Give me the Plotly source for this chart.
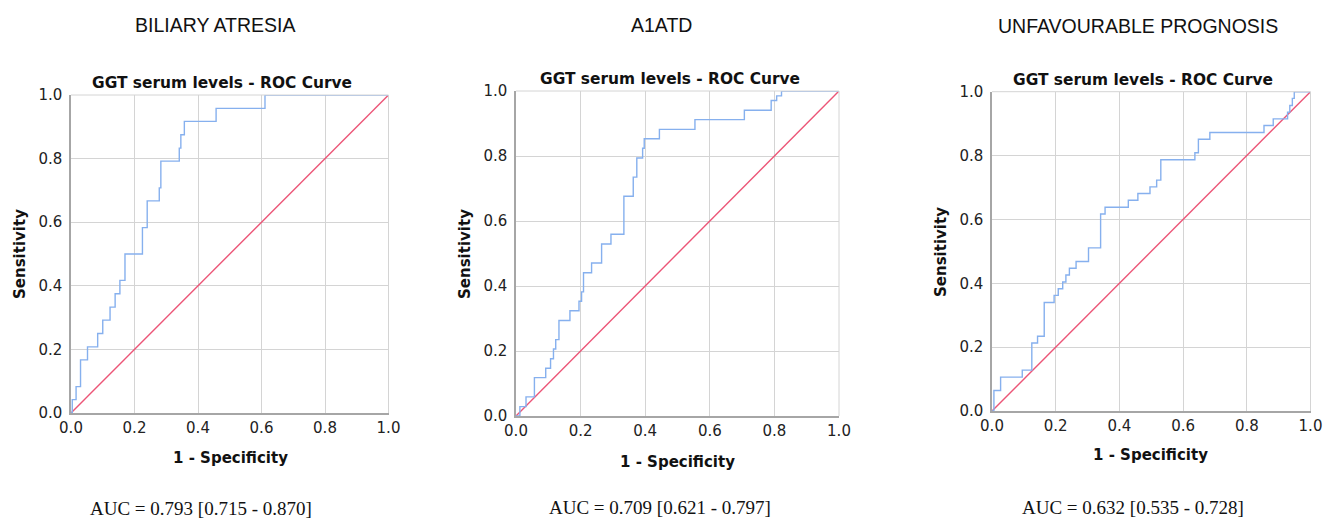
import plotly.graph_objects as go

W, H = 1324, 521

# ---------------- data ----------------
panel_titles = ["BILIARY ATRESIA", "A1ATD", "UNFAVOURABLE PROGNOSIS"]
chart_title = "GGT serum levels - ROC Curve"
x_title = "1 - Specificity"
y_title = "Sensitivity"
auc_labels = ["AUC = 0.793 [0.715 - 0.870]",
              "AUC = 0.709 [0.621 - 0.797]",
              "AUC = 0.632 [0.535 - 0.728]"]
tick_vals = [0.0, 0.2, 0.4, 0.6, 0.8, 1.0]
tick_text = ["0.0", "0.2", "0.4", "0.6", "0.8", "1.0"]
ref_x = [0.0, 1.0]
ref_y = [0.0, 1.0]

# Biliary atresia ROC (step points: x where the step happens, new sensitivity)
ba_fpr = [0.0, 0.004, 0.016, 0.030, 0.052, 0.084, 0.100, 0.123, 0.139, 0.154,
          0.170, 0.225, 0.240, 0.278, 0.283, 0.341, 0.346, 0.357, 0.457, 0.611, 1.0]
ba_tpr = [0.0, 0.042, 0.083, 0.167, 0.208, 0.250, 0.292, 0.333, 0.375, 0.417,
          0.500, 0.583, 0.667, 0.708, 0.792, 0.833, 0.875, 0.917, 0.958, 1.000, 1.0]

# A1ATD ROC
a1_fpr = [0.0, 0.012, 0.031, 0.057, 0.092, 0.107, 0.116, 0.123, 0.133, 0.167,
          0.195, 0.203, 0.209, 0.234, 0.265, 0.294, 0.334, 0.363, 0.374, 0.392,
          0.397, 0.444, 0.554, 0.707, 0.790, 0.807, 0.822, 1.0]
a1_tpr = [0.0, 0.029, 0.059, 0.118, 0.147, 0.176, 0.206, 0.235, 0.294, 0.324,
          0.353, 0.382, 0.441, 0.471, 0.529, 0.559, 0.676, 0.735, 0.794, 0.824,
          0.853, 0.882, 0.912, 0.941, 0.971, 0.985, 1.000, 1.0]

# Unfavourable prognosis ROC
up_fpr = [0.0, 0.006, 0.027, 0.095, 0.125, 0.143, 0.164, 0.195, 0.208, 0.222,
          0.232, 0.243, 0.264, 0.303, 0.341, 0.355, 0.428, 0.458, 0.496, 0.517,
          0.530, 0.637, 0.648, 0.684, 0.854, 0.883, 0.928, 0.935, 0.943, 0.949, 1.0]
up_tpr = [0.0, 0.064, 0.106, 0.128, 0.213, 0.234, 0.340, 0.362, 0.383, 0.404,
          0.426, 0.447, 0.468, 0.511, 0.617, 0.638, 0.660, 0.681, 0.702, 0.723,
          0.787, 0.809, 0.851, 0.872, 0.894, 0.915, 0.936, 0.957, 0.979, 1.000, 1.0]

curves = [(ba_fpr, ba_tpr), (a1_fpr, a1_tpr), (up_fpr, up_tpr)]

# ---------------- layout geometry (pixels) ----------------
# plot box: left, right, top, bottom
boxes = [(71, 388.5, 95, 413), (516, 839, 91, 416), (992, 1310.5, 91.7, 411)]
panel_title_pos = [(215, 25), (661, 25), (1138, 25.5)]
chart_title_pos = [(222, 83), (670, 79), (1143, 80)]
ytitle_pos = [(20, 254), (465, 254), (941, 252)]
xtitle_pos = [(230, 458), (677, 462), (1150, 455)]
auc_pos = [(201, 508), (660, 507), (1133, 507)]

BLUE = "#86b0ee"
RED = "#ec5577"
GRID = "#d4d4d4"
AXIS = "#a6a6a6"

fig = go.Figure()
annotations = []
shapes = []

def px(x):
    return x / W

def py(y):
    return 1 - y / H

for i, ((fx, ty), box) in enumerate(zip(curves, boxes)):
    n = "" if i == 0 else str(i + 1)
    xa, ya = "x" + n, "y" + n
    fig.add_trace(go.Scatter(x=ref_x, y=ref_y, mode="lines", xaxis=xa, yaxis=ya,
                             line=dict(color=RED, width=1.4), showlegend=False,
                             hoverinfo="skip"))
    fig.add_trace(go.Scatter(x=fx, y=ty, mode="lines", xaxis=xa, yaxis=ya,
                             line=dict(color=BLUE, width=1.4, shape="hv"),
                             showlegend=False))
    l, r, t, b = box
    common = dict(range=[0, 1], tickvals=tick_vals, ticktext=tick_text,
                  showgrid=True, gridcolor=GRID, gridwidth=1, zeroline=False,
                  showline=True, linecolor=AXIS, linewidth=1.5, ticks="",
                  automargin=False,
                  tickfont=dict(family="DejaVu Sans", size=15, color="#222222"),
                  fixedrange=True)
    fig.update_layout(**{
        "xaxis" + n: dict(domain=[px(l), px(r)], anchor=ya, **common),
        "yaxis" + n: dict(domain=[py(b), py(t)], anchor=xa, ticklabelstandoff=4, **common),
    })
    # top / right border as light grid line
    shapes.append(dict(type="line", xref=xa + " domain", yref=ya + " domain",
                       x0=0, x1=1, y0=1, y1=1, line=dict(color=GRID, width=1)))
    shapes.append(dict(type="line", xref=xa + " domain", yref=ya + " domain",
                       x0=1, x1=1, y0=0, y1=1, line=dict(color=GRID, width=1)))

    def ann(text, pos, size, family, bold=False, angle=0):
        x, y = pos
        annotations.append(dict(text=("<b>%s</b>" % text) if bold else text,
                                x=px(x), y=py(y), xref="paper", yref="paper",
                                xanchor="center", yanchor="middle", showarrow=False,
                                textangle=angle,
                                font=dict(family=family, size=size, color="#111111")))

    ann(panel_titles[i], panel_title_pos[i], 19.5, "Liberation Sans")
    ann(chart_title, chart_title_pos[i], 15.4, "DejaVu Sans", bold=True)
    ann(y_title, ytitle_pos[i], 15, "DejaVu Sans", bold=True, angle=-90)
    ann(x_title, xtitle_pos[i], 15, "DejaVu Sans", bold=True)
    ann(auc_labels[i], auc_pos[i], 19, "Liberation Serif")

fig.update_layout(width=W, height=H, margin=dict(l=0, r=0, t=0, b=0, autoexpand=False),
                  paper_bgcolor="white", plot_bgcolor="white",
                  annotations=annotations, shapes=shapes)

fig.write_html("out.html", config={"displayModeBar": False},
               post_script="document.body.style.margin='0';document.body.style.overflow='hidden';")
